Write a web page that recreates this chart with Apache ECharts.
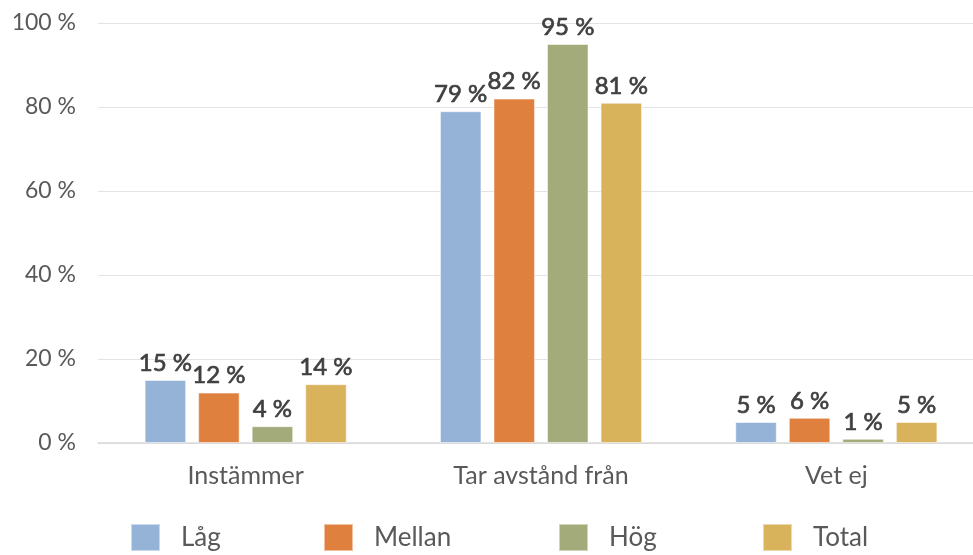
<!DOCTYPE html>
<html><head><meta charset="utf-8">
<script src="https://cdn.jsdelivr.net/npm/echarts@6/dist/echarts.min.js"></script>
<style>html,body{margin:0;padding:0;background:#fff;overflow:hidden}#c{width:985px;height:555px}</style>
</head><body><div id="c"></div>
<script>
const categories = ['Instämmer', 'Tar avstånd från', 'Vet ej'];
const seriesNames = ['Låg', 'Mellan', 'Hög', 'Total'];
const lag = [15, 79, 5];
const mellan = [12, 82, 6];
const hog = [4, 95, 1];
const total = [14, 81, 5];
const colors = ['#95B3D7', '#E0803F', '#A3AB7B', '#D9B25C'];
const values = [lag, mellan, hog, total];
const legendLefts = [130, 323, 558, 762];
const FONT = 'Lato';
const chart = echarts.init(document.getElementById('c'));
chart.setOption({
  animation: false,
  textStyle: { fontFamily: FONT },
  grid: { left: 98, right: 1, top: 23, bottom: 112, containLabel: false },
  legend: seriesNames.map((n, i) => ({
    top: 523, left: legendLefts[i], padding: 0,
    itemWidth: 29, itemHeight: 27,
    icon: 'rect',
    textStyle: { fontFamily: FONT, fontSize: 26, color: '#595959', padding: [0, 0, 0, 16] },
    data: [n]
  })),
  xAxis: {
    type: 'category', data: categories,
    axisLine: { lineStyle: { color: '#D9D9D9', width: 1.5 } },
    axisTick: { show: false },
    axisLabel: { fontFamily: FONT, fontSize: 25, color: '#595959', margin: 20 }
  },
  yAxis: {
    type: 'value', min: 0, max: 100, interval: 20,
    axisLine: { show: false }, axisTick: { show: false },
    splitLine: { lineStyle: { color: '#E3E3E3', width: 1 } },
    axisLabel: { fontFamily: FONT, fontSize: 23, color: '#595959', margin: 22, formatter: v => v + ' %' }
  },
  series: values.map((d, i) => ({
    name: seriesNames[i], type: 'bar', data: d,
    barWidth: 41.5, barGap: '29%',
    itemStyle: { color: colors[i], borderColor: 'rgba(255,255,255,0.5)', borderWidth: 1 },
    label: { show: true, position: 'top', distance: 5, fontFamily: FONT, fontSize: 24, fontWeight: 'normal', color: '#404040', textBorderColor: '#404040', textBorderWidth: 0.7, formatter: p => p.value + ' %' }
  }))
});
</script></body></html>
